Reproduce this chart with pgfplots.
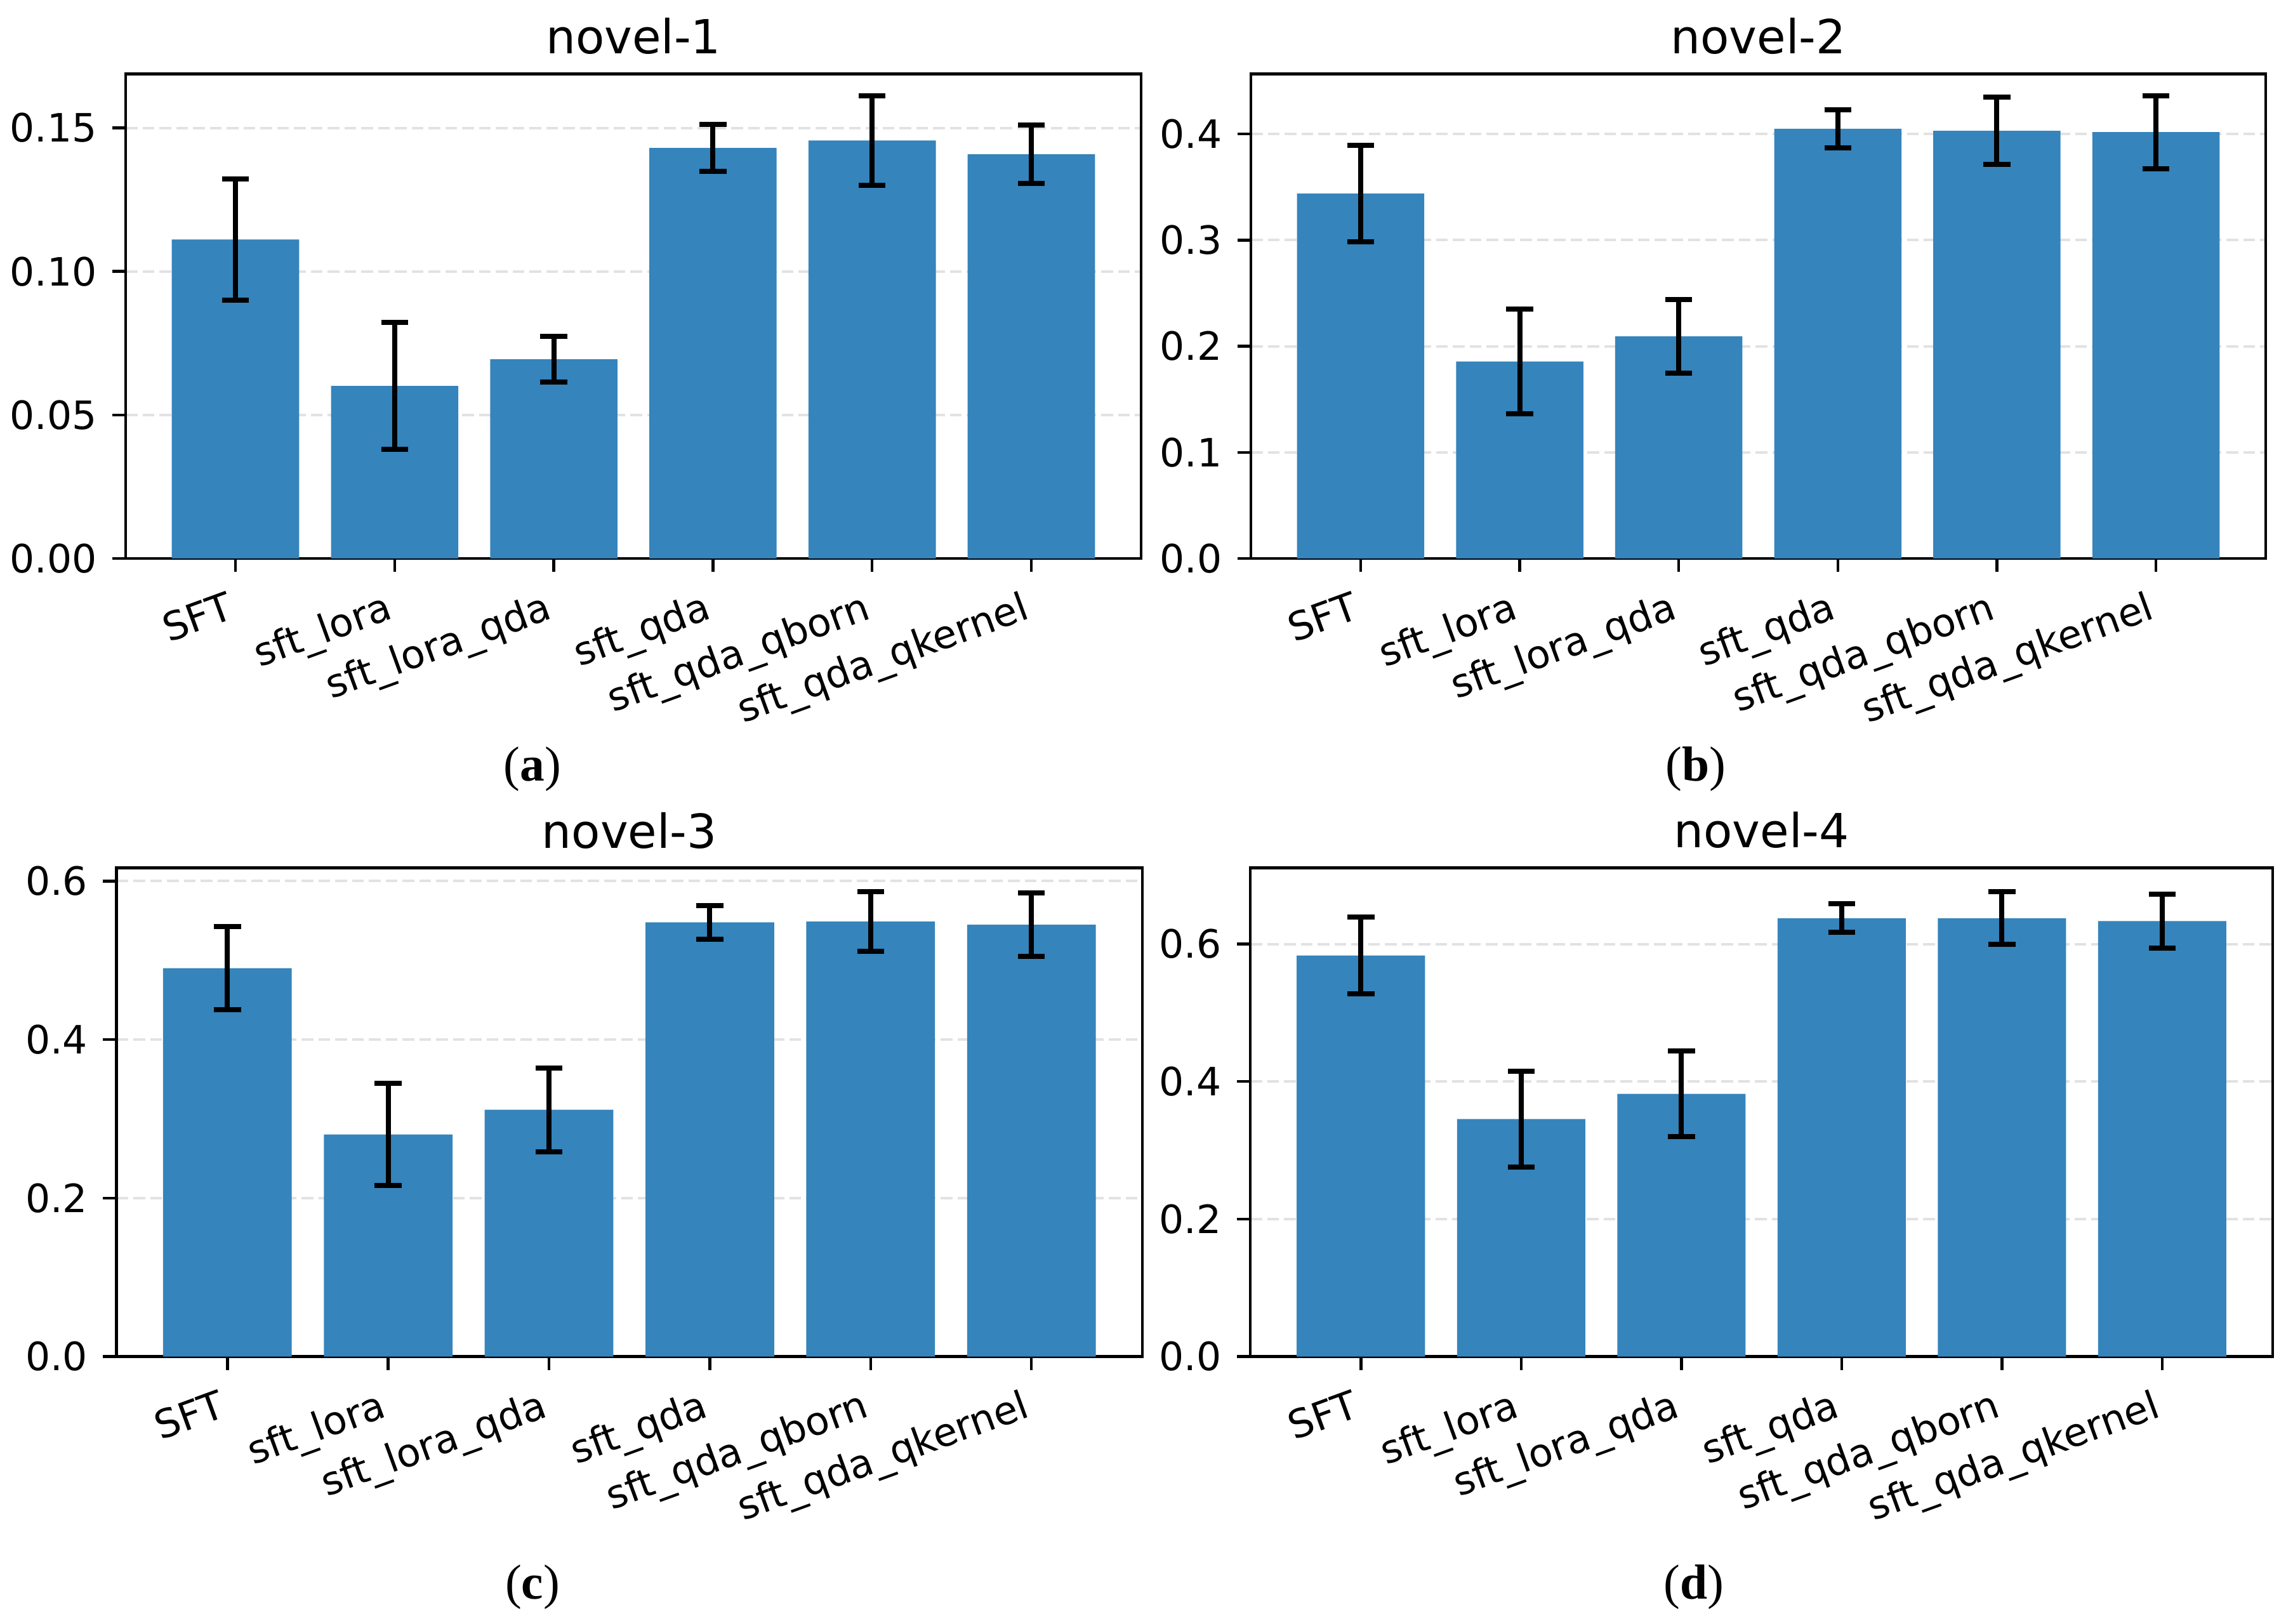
\documentclass[border=0pt]{standalone}
\usepackage{fontspec}
\setmainfont{DejaVu Sans}
\newfontfamily\capfont{Liberation Serif}
\usepackage{pgfplots}
\pgfplotsset{compat=1.18}
\definecolor{barblue}{RGB}{53,132,188}
\definecolor{gridgray}{RGB}{226,226,226}
\pgfplotsset{
  novel/.style={
    scale only axis,
    ybar, bar width=0.8, bar shift=0pt,
    xmin=-0.69, xmax=5.69, ymin=0,
    xtick={0,1,2,3,4,5},
    xticklabels={SFT,sft\_lora,sft\_lora\_qda,sft\_qda,sft\_qda\_qborn,sft\_qda\_qkernel},
    tick align=outside,
    major tick length=4.2pt,
    xtick pos=bottom, ytick pos=left,
    tick style={line width=0.9pt, black},
    axis line style={line width=0.9pt, black},
    ymajorgrids,
    grid style={dash pattern=on 3.7pt off 1.6pt, gridgray, line width=0.8pt},
    xticklabel style={font=\fontsize{12.3}{14}\selectfont, rotate=20, anchor=north east,
      inner sep=0pt, text height=0.93em, text depth=0.24em, xshift=-4.9pt, yshift=-4.2pt},
    yticklabel style={font=\fontsize{12.3}{14}\selectfont, inner sep=0pt, xshift=-4.7pt},
    title style={font=\fontsize{14.8}{17}\selectfont, at={(0.5,1)}, anchor=base, yshift=0.3pt, inner sep=0pt},
  },
  errs/.style={fill=barblue, draw=none,
    error bars/.cd, y dir=both, y explicit,
    error bar style={line width=1.6pt, black},
    error mark options={rotate=90, mark size=4.25pt, line width=1.6pt, black}},
}
\begin{document}
\begin{tikzpicture}
\useasboundingbox (0,0) rectangle (722.6pt,511.6pt);
% (a)
\begin{axis}[novel, at={(39.6pt,335.6pt)}, anchor=south west, width=320pt, height=152.7pt,
  ymax=0.1688, ytick={0,0.05,0.10,0.15}, yticklabels={0.00,0.05,0.10,0.15}, title={novel-1}]
\addplot[errs] coordinates {(0,0.1111) +- (0,0.0212) (1,0.0601) +- (0,0.0221) (2,0.0694) +- (0,0.0080)
  (3,0.1430) +- (0,0.0082) (4,0.1456) +- (0,0.0155) (5,0.1408) +- (0,0.0102)};
\end{axis}
% (b)
\begin{axis}[novel, at={(394.2pt,335.6pt)}, anchor=south west, width=319.8pt, height=152.7pt,
  ymax=0.4566, ytick={0,0.1,0.2,0.3,0.4}, yticklabels={0.0,0.1,0.2,0.3,0.4}, title={novel-2}]
\addplot[errs] coordinates {(0,0.3440) +- (0,0.0454) (1,0.1856) +- (0,0.0495) (2,0.2094) +- (0,0.0348)
  (3,0.4049) +- (0,0.0177) (4,0.4030) +- (0,0.0319) (5,0.4018) +- (0,0.0344)};
\end{axis}
% (c)
\begin{axis}[novel, at={(36.7pt,84.1pt)}, anchor=south west, width=323.3pt, height=154pt,
  ymax=0.6167, ytick={0,0.2,0.4,0.6}, yticklabels={0.0,0.2,0.4,0.6}, title={novel-3}]
\addplot[errs] coordinates {(0,0.4900) +- (0,0.0525) (1,0.2803) +- (0,0.0645) (2,0.3114) +- (0,0.0528)
  (3,0.5480) +- (0,0.0214) (4,0.5490) +- (0,0.0378) (5,0.5450) +- (0,0.0398)};
\end{axis}
% (d)
\begin{axis}[novel, at={(394pt,84.1pt)}, anchor=south west, width=322.2pt, height=154pt,
  ymax=0.7109, ytick={0,0.2,0.4,0.6}, yticklabels={0.0,0.2,0.4,0.6}, title={novel-4}]
\addplot[errs] coordinates {(0,0.5834) +- (0,0.0559) (1,0.3454) +- (0,0.0697) (2,0.3820) +- (0,0.0624)
  (3,0.6377) +- (0,0.0208) (4,0.6377) +- (0,0.0385) (5,0.6334) +- (0,0.0389)};
\end{axis}
\node[font=\capfont\fontsize{15.5}{18}\selectfont] at (167.8pt,269.2pt) {(\textbf{a})};
\node[font=\capfont\fontsize{15.5}{18}\selectfont] at (534.4pt,269.2pt) {(\textbf{b})};
\node[font=\capfont\fontsize{15.5}{18}\selectfont] at (167.8pt,11.4pt) {(\textbf{c})};
\node[font=\capfont\fontsize{15.5}{18}\selectfont] at (533.8pt,11.4pt) {(\textbf{d})};
\end{tikzpicture}
\end{document}
